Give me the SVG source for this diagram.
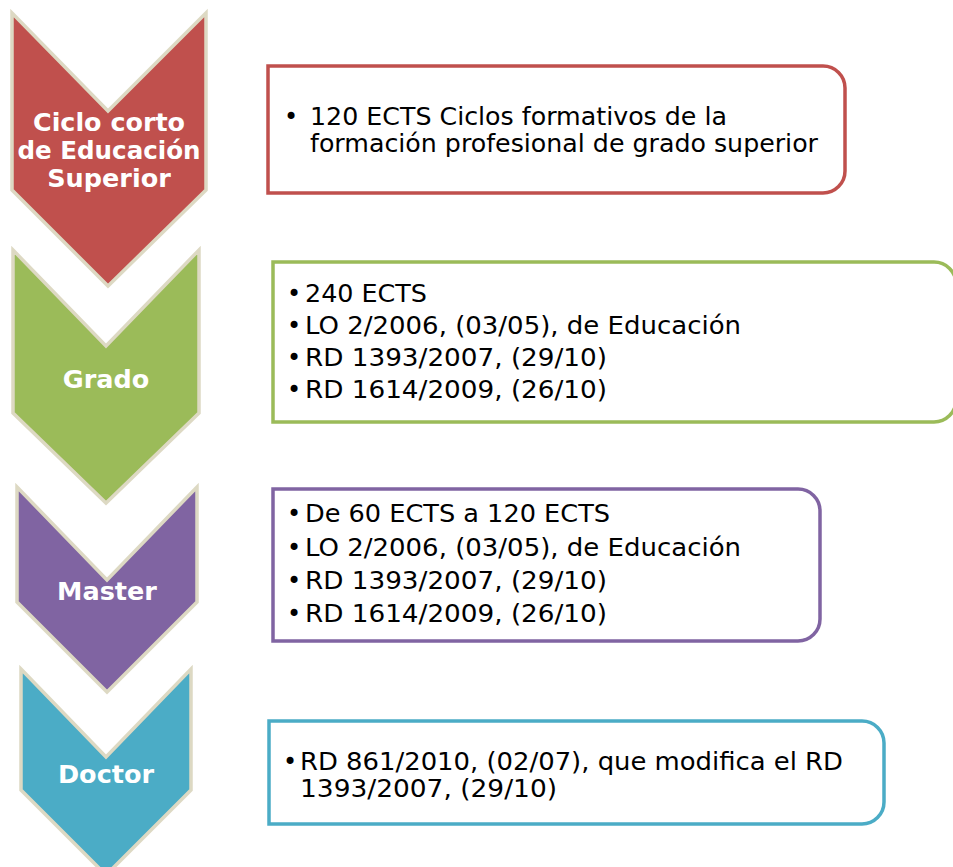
<svg xmlns="http://www.w3.org/2000/svg" width="953" height="867" viewBox="0 0 953 867">
<style>
.chev{stroke:#ddd9c3;stroke-width:3.5;stroke-linejoin:miter}
.lbl{font-family:"DejaVu Sans",Verdana,sans-serif;font-weight:bold;font-size:25.5px;fill:#ffffff;text-anchor:middle}
.box{fill:#ffffff;stroke-width:3.5}
.t{font-family:"DejaVu Sans",Verdana,sans-serif;font-size:24px;fill:#000000}
</style>
<rect width="953" height="867" fill="#ffffff"/>
<g id="n1">
<polygon class="chev" fill="#c0504d" points="12,13 108,111 206,13 206,190 108,286 12,190"/>
<text class="lbl" x="109" y="131" textLength="152" lengthAdjust="spacingAndGlyphs">Ciclo corto</text>
<text class="lbl" x="109" y="159" textLength="183" lengthAdjust="spacingAndGlyphs">de Educación</text>
<text class="lbl" x="109" y="187">Superior</text>
</g>
<g id="n2">
<polygon class="chev" fill="#9bbb59" points="13,250 106,346 199,250 199,413 106,503 13,413"/>
<text class="lbl" x="106" y="388">Grado</text>
</g>
<g id="n3">
<polygon class="chev" fill="#8064a2" points="17,487 107,580 197,487 197,602 107,692 17,602"/>
<text class="lbl" x="107" y="600">Master</text>
</g>
<g id="n4">
<polygon class="chev" fill="#4bacc6" points="21,669 106,757 191,669 191,790 106,875 21,790"/>
<text class="lbl" x="106" y="783">Doctor</text>
</g>
<g id="b1">
<path class="box" stroke="#c0504d" d="M268,66 H823 A22,22 0 0 1 845,88 V171 A22,22 0 0 1 823,193 H268 Z"/>
<text class="t" x="284" y="125">•</text>
<text class="t" x="310" y="125" textLength="417" lengthAdjust="spacingAndGlyphs">120 ECTS Ciclos formativos de la</text>
<text class="t" x="310" y="152" textLength="508" lengthAdjust="spacingAndGlyphs">formación profesional de grado superior</text>
</g>
<g id="b2">
<path class="box" stroke="#9bbb59" d="M273,262 H934 A22,22 0 0 1 956,284 V400 A22,22 0 0 1 934,422 H273 Z"/>
<text class="t" x="287" y="302">•</text>
<text class="t" x="305" y="302" textLength="122" lengthAdjust="spacingAndGlyphs">240 ECTS</text>
<text class="t" x="287" y="334">•</text>
<text class="t" x="305" y="334" textLength="436" lengthAdjust="spacingAndGlyphs">LO 2/2006, (03/05), de Educación</text>
<text class="t" x="287" y="366">•</text>
<text class="t" x="305" y="366" textLength="302" lengthAdjust="spacingAndGlyphs">RD 1393/2007, (29/10)</text>
<text class="t" x="287" y="398">•</text>
<text class="t" x="305" y="398" textLength="302" lengthAdjust="spacingAndGlyphs">RD 1614/2009, (26/10)</text>
</g>
<g id="b3">
<path class="box" stroke="#8064a2" d="M273,489 H798 A22,22 0 0 1 820,511 V619 A22,22 0 0 1 798,641 H273 Z"/>
<text class="t" x="287" y="522">•</text>
<text class="t" x="305" y="522" textLength="305" lengthAdjust="spacingAndGlyphs">De 60 ECTS a 120 ECTS</text>
<text class="t" x="287" y="556">•</text>
<text class="t" x="305" y="556" textLength="436" lengthAdjust="spacingAndGlyphs">LO 2/2006, (03/05), de Educación</text>
<text class="t" x="287" y="589">•</text>
<text class="t" x="305" y="589" textLength="302" lengthAdjust="spacingAndGlyphs">RD 1393/2007, (29/10)</text>
<text class="t" x="287" y="622">•</text>
<text class="t" x="305" y="622" textLength="302" lengthAdjust="spacingAndGlyphs">RD 1614/2009, (26/10)</text>
</g>
<g id="b4">
<path class="box" stroke="#4bacc6" d="M269,721 H862 A22,22 0 0 1 884,743 V802 A22,22 0 0 1 862,824 H269 Z"/>
<text class="t" x="283" y="770">•</text>
<text class="t" x="300" y="770" textLength="543" lengthAdjust="spacingAndGlyphs">RD 861/2010, (02/07), que modifica el RD</text>
<text class="t" x="300" y="797" textLength="257" lengthAdjust="spacingAndGlyphs">1393/2007, (29/10)</text>
</g>
<g id="connectors"></g>
</svg>
